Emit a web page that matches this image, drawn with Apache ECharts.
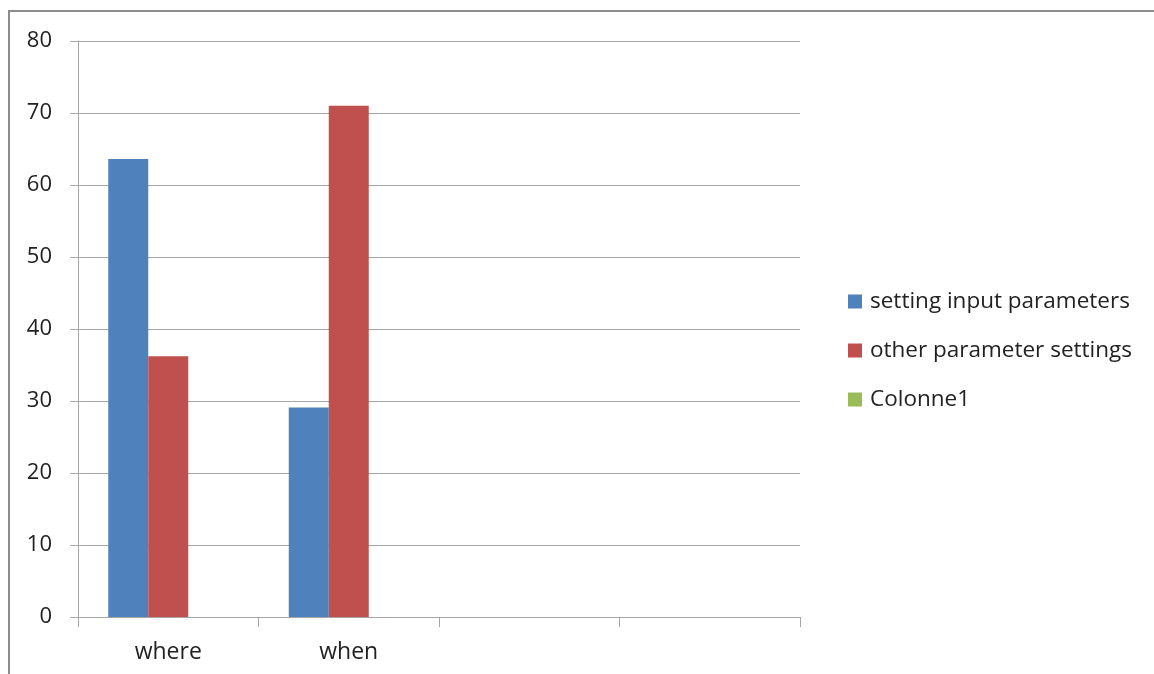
<!DOCTYPE html>
<html>
<head>
<meta charset="utf-8">
<script src="https://cdn.jsdelivr.net/npm/echarts@6/dist/echarts.min.js"></script>
<style>
  html, body { margin: 0; padding: 0; background: #fff; overflow: hidden; }
  #frame { position: absolute; left: 8px; top: 10px; width: 1160px; height: 680px; border: 2px solid #8c8c8c; box-sizing: border-box; }
  #chart { position: absolute; left: 0; top: 0; width: 1154px; height: 674px; }
</style>
</head>
<body>
<div id="frame"></div>
<div id="chart"></div>
<script>
const categories = ["where", "when", "", ""];
const seriesNames = ["setting input parameters", "other parameter settings", "Colonne1"];
const settingInput = [63.6, 29.1, null, null];
const otherSettings = [36.2, 71, null, null];
const colonne1 = [null, null, null, null];
const yTicks = { min: 0, max: 80, interval: 10 };

const COLORS = ["#4f81bd", "#c0504d", "#9bbb59"];
const AXIS_GRAY = "#a6a6a6";
const FONT = "'Open Sans', sans-serif";

const chart = echarts.init(document.getElementById("chart"));

const barSeries = (name, data, color) => ({
  name,
  type: "bar",
  data,
  barWidth: 40,
  barGap: "0%",
  itemStyle: { color },
});

chart.setOption({
  animation: false,
  backgroundColor: "transparent",
  grid: { left: 78, right: 354, top: 41, bottom: 57 },
  legend: {
    orient: "vertical",
    left: 843,
    top: 285,
    itemWidth: 14,
    itemHeight: 14,
    itemGap: 26,
    itemStyle: { borderWidth: 0 },
    icon: "rect",
    textStyle: { fontFamily: FONT, fontSize: 22.5, lineHeight: 22, color: "#222", padding: [0, 0, 0, 3] },
    data: seriesNames,
  },
  xAxis: {
    type: "category",
    data: categories,
    axisLine: { lineStyle: { color: AXIS_GRAY, width: 1 } },
    axisTick: { show: true, length: 10, lineStyle: { color: AXIS_GRAY } },
    axisLabel: { fontFamily: FONT, fontSize: 23, color: "#222", margin: 24 },
  },
  yAxis: {
    type: "value",
    min: yTicks.min,
    max: yTicks.max,
    interval: yTicks.interval,
    axisLine: { show: true, lineStyle: { color: AXIS_GRAY, width: 1 } },
    axisTick: { show: true, length: 8, lineStyle: { color: AXIS_GRAY } },
    axisLabel: { fontFamily: FONT, fontSize: 22, color: "#222", margin: 26 },
    splitLine: { lineStyle: { color: AXIS_GRAY, width: 1 } },
  },
  series: [
    barSeries(seriesNames[0], settingInput, COLORS[0]),
    barSeries(seriesNames[1], otherSettings, COLORS[1]),
    barSeries(seriesNames[2], colonne1, COLORS[2]),
  ],
});
</script>
</body>
</html>
